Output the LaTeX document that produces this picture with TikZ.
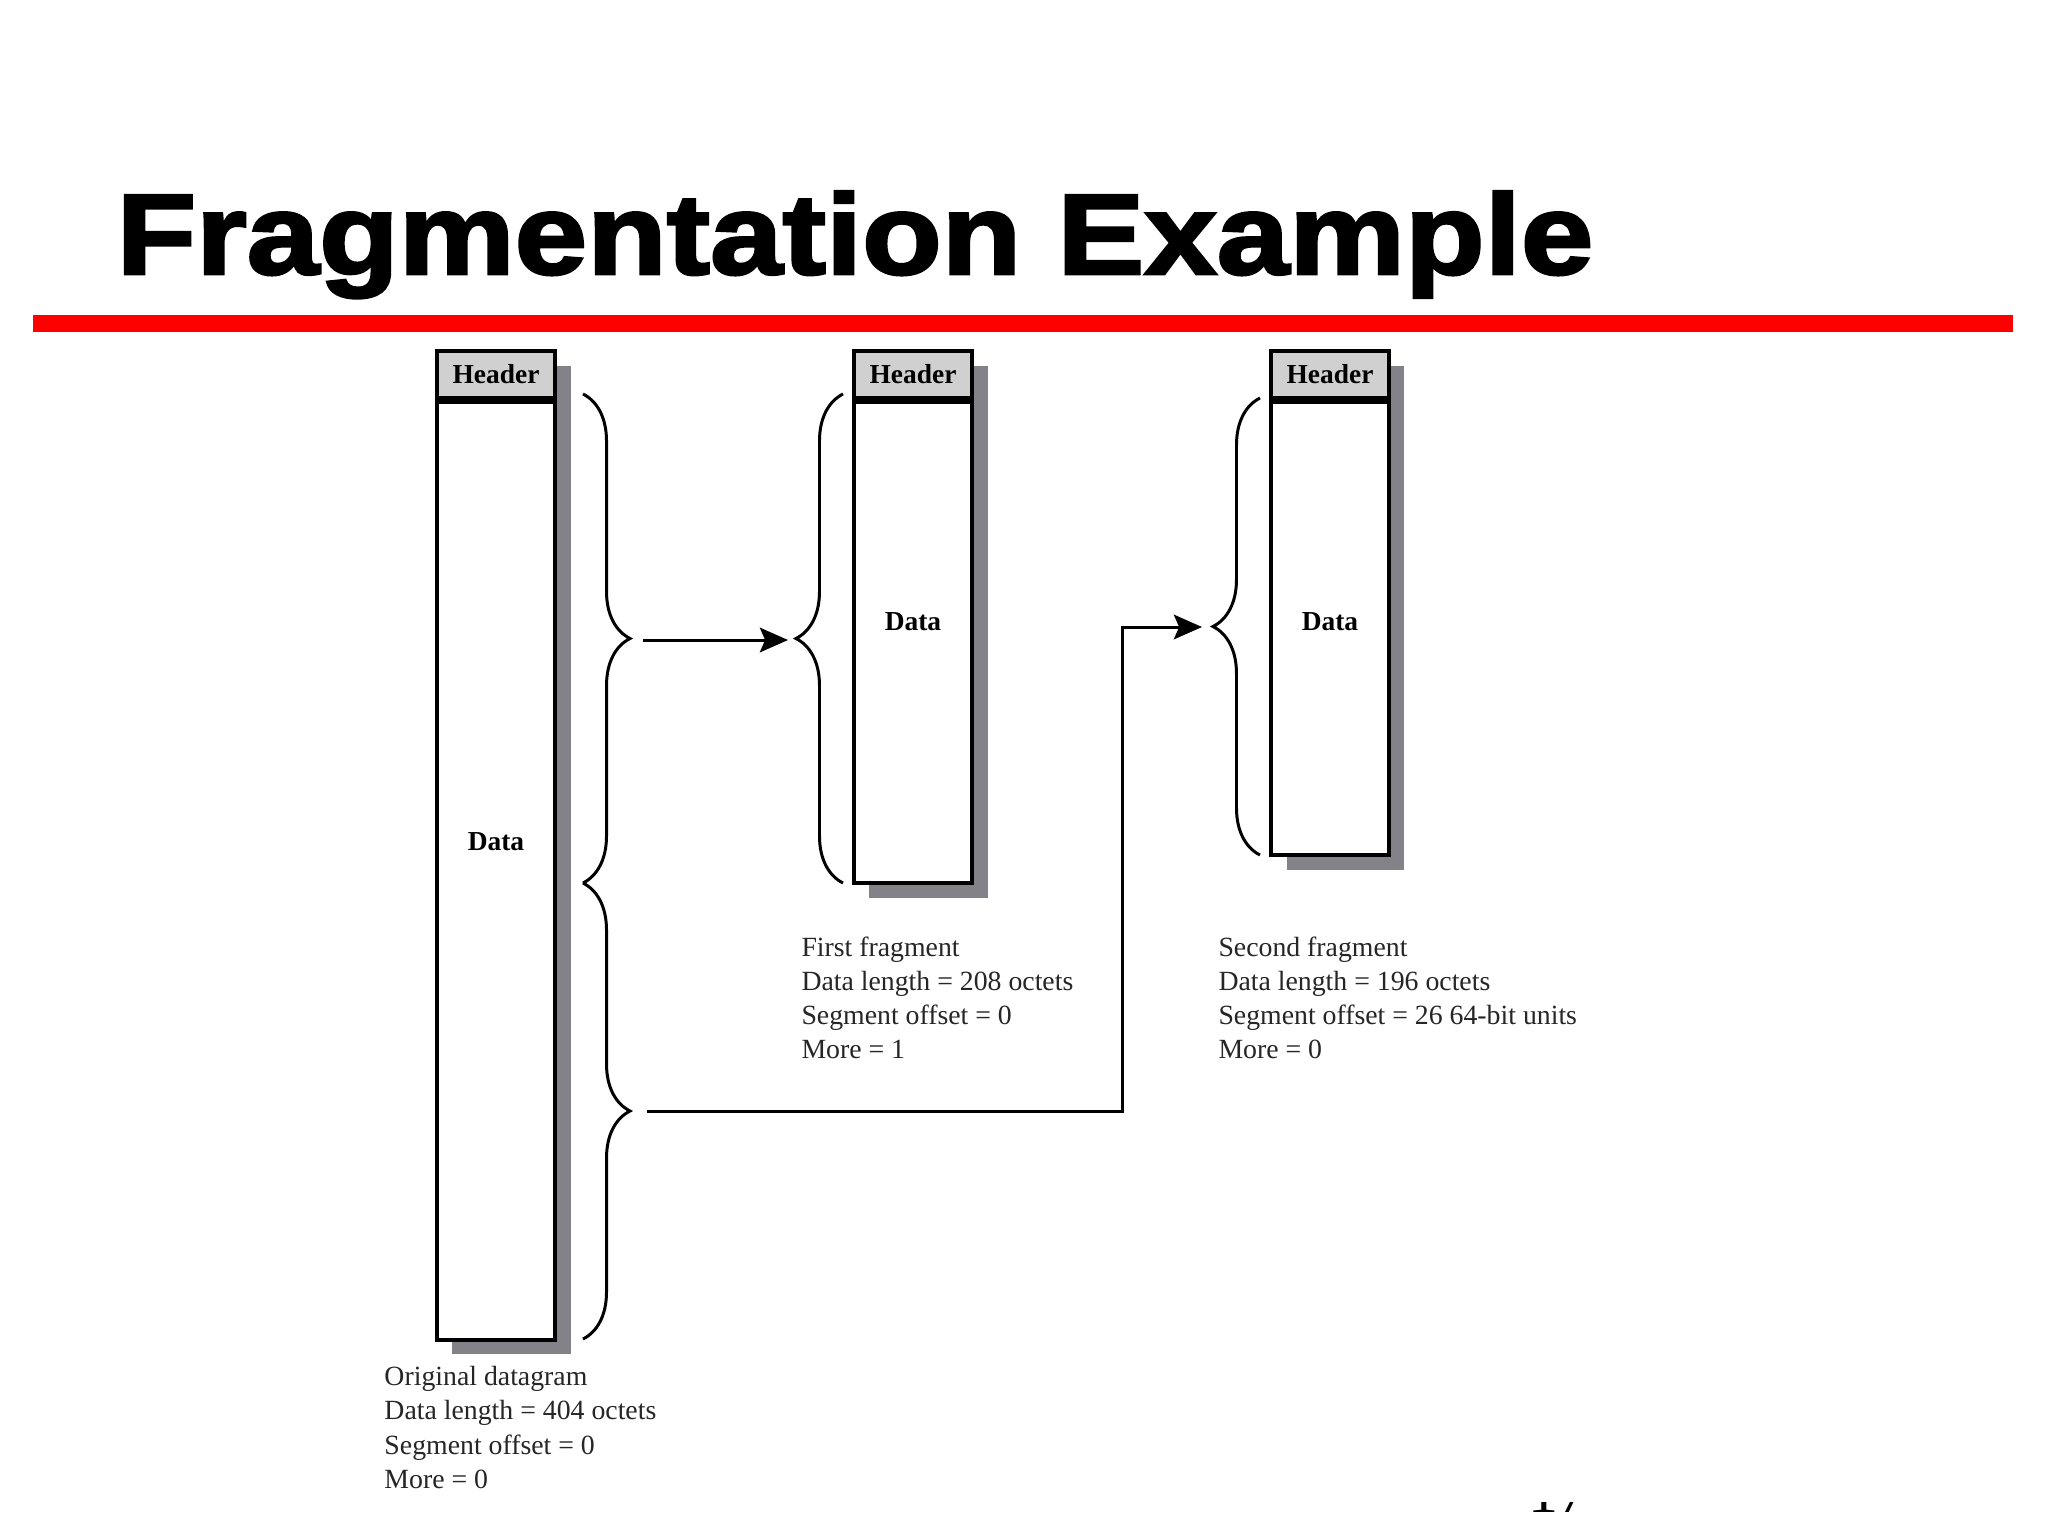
\documentclass[tikz,border=0pt]{standalone}
\usepackage{fontspec}
\setmainfont{Liberation Serif}
\newfontfamily\titlefont[FakeBold=2.5,FakeStretch=1.14]{Liberation Sans}
\usetikzlibrary{arrows.meta,decorations.pathreplacing,positioning}
\definecolor{slidered}{RGB}{255,0,0}
\definecolor{hdrgray}{RGB}{208,208,208}
\definecolor{shadowgray}{RGB}{130,130,136}
\tikzset{
	hdr/.style={draw,line width=1.15pt,fill=hdrgray,minimum width=1.18cm,minimum height=0.47cm,inner sep=0pt,font=\fontsize{7.8}{9}\selectfont\bfseries},
	body/.style={draw,line width=1.15pt,fill=white,minimum width=1.18cm,inner sep=0pt,anchor=north},
	lbl/.style={inner sep=0pt,font=\fontsize{7.8}{9}\selectfont\bfseries},
	curly/.style={decorate,decoration={brace,amplitude=0.47cm},line width=0.85pt},
	info/.style={align=left,anchor=north west,inner sep=0pt,text=black!85,font=\fontsize{7.9}{9.7}\selectfont}
}
\begin{document}
\begin{tikzpicture}[x=0.01cm,y=-0.01cm,>={Stealth[length=8pt,width=7pt,inset=1.5pt]},line width=0.85pt]
	\useasboundingbox (0,0) rectangle (2048,1536);
	\fill[white] (0,0) rectangle (2048,1536);
	% page number, mostly hidden by the picture panel
	\node[anchor=base west,inner sep=0pt,font=\fontsize{17}{20}\selectfont] (pagenum) at (1527,1512) {17};
	\fill[white] (33,336) rectangle (2013,1502);
	% title
	\node[anchor=base west,inner sep=0pt,font=\titlefont\bfseries\fontsize{32.5}{36}\selectfont] (title) at (115,274) {Fragmentation Example};
	\fill[slidered] (33,315) rectangle (2013,332);
	% shadows
	\fill[shadowgray] (452,366) rectangle (571,1354);
	\fill[shadowgray] (869,366) rectangle (988,898);
	\fill[shadowgray] (1287,366) rectangle (1404,870);
	% datagrams
	\node[hdr] (orighdr) at (496,374.5) {Header};
	\node[body,minimum height=9.37cm] (origbody) at (orighdr.south) {};
	\node[hdr] (firsthdr) at (913,374.5) {Header};
	\node[body,minimum height=4.81cm] (firstbody) at (firsthdr.south) {};
	\node[hdr] (secondhdr) at (1330,374.5) {Header};
	\node[body,minimum height=4.53cm] (secondbody) at (secondhdr.south) {};
	\node[lbl] (origdata) at (496,842) {Data};
	\node[lbl] (firstdata) at (913,622) {Data};
	\node[lbl] (seconddata) at (1330,622) {Data};
	% braces
	\draw[curly] (583,394) -- (583,883);
	\draw[curly] (583,883) -- (583,1339);
	\draw[curly] (843,883) -- (843,394);
	\draw[curly] (1260,855) -- (1260,398);
	\coordinate (origtipA) at (643,640);
	\coordinate (origtipB) at (647,1111);
	\coordinate (firsttip) at (788,640);
	\coordinate (secondtip) at (1202,627);
	\coordinate (turn) at (1122,627);
	\draw[->] (origtipA) -- (firsttip);
	\draw[->] (origtipB) -| (turn) -- (secondtip);
	% captions
	\node[info] (originfo) at (383,1365) {Original datagram\\Data length = 404 octets\\Segment offset = 0\\More = 0};
	\node[info] (firstinfo) at (800,935) {First fragment\\Data length = 208 octets\\Segment offset = 0\\More = 1};
	\node[info] (secondinfo) at (1217,935) {Second fragment\\Data length = 196 octets\\Segment offset = 26 64-bit units\\More = 0};
\end{tikzpicture}
\end{document}
